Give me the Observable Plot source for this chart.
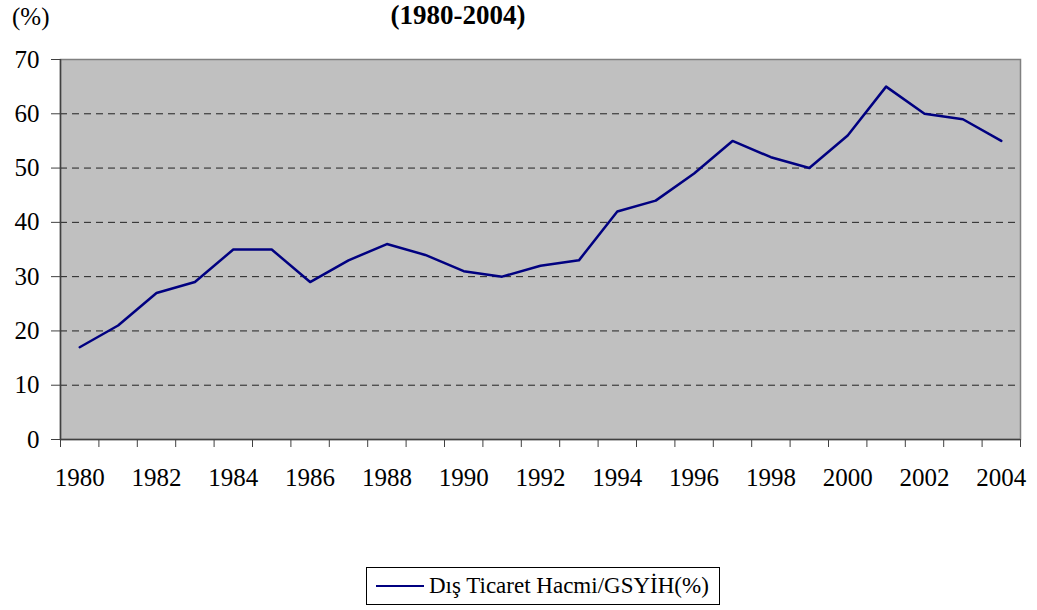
<!DOCTYPE html>
<html><head><meta charset="utf-8">
<script src="https://cdn.jsdelivr.net/npm/d3@7"></script>
<script src="https://cdn.jsdelivr.net/npm/@observablehq/plot@0.6"></script>
<style>
body{margin:0;background:#fff;font-family:"Liberation Serif","Times New Roman",serif;}
#wrap{position:relative;width:1037px;height:610px;overflow:hidden;background:#fff;}
#chart{position:absolute;left:0;top:0;}
#title{position:absolute;left:258px;top:2px;width:400px;text-align:center;font-weight:bold;font-size:27px;line-height:27px;}
#unit{position:absolute;left:12px;top:4px;font-size:25px;line-height:25px;}
#legend{position:absolute;left:366px;top:567px;width:352px;height:36px;border:1px solid #000;box-sizing:content-box;display:flex;align-items:center;font-size:23px;}
#legend .sw{width:48px;height:0;border-top:2.5px solid #000080;margin-left:9px;margin-right:5px;}
</style>
</head><body>
<div id="wrap">
  <div id="chart"></div>
  <div id="title">(1980-2004)</div>
  <div id="unit">(%)</div>
  <div id="legend"><span class="sw"></span><span id="legtext"></span></div>
</div>
<script>
const years = [1980,1981,1982,1983,1984,1985,1986,1987,1988,1989,1990,1991,1992,1993,1994,1995,1996,1997,1998,1999,2000,2001,2002,2003,2004];
const values = [17,21,27,29,35,35,29,33,36,34,31,30,32,33,42,44,49,55,52,50,56,65,60,59,55];
const seriesName = "Dış Ticaret Hacmi/GSYİH(%)";
const yTicks = [0,10,20,30,40,50,60,70];
const gridLines = [10,20,30,40,50,60];
const xLabels = [1980,1982,1984,1986,1988,1990,1992,1994,1996,1998,2000,2002,2004];

const data = years.map((y, i) => ({year: y, value: values[i]}));
const boundaries = years.map(y => y - 0.5).concat([years[years.length - 1] + 0.5]);
const x0 = years[0] - 0.5, x1 = years[years.length - 1] + 0.5;

document.getElementById("legtext").textContent = seriesName;

const chart = Plot.plot({
  width: 1037,
  height: 500,
  marginLeft: 60,
  marginRight: 17,
  marginTop: 59,
  marginBottom: 61,
  style: {fontFamily: '"Liberation Serif","Times New Roman",serif', fontSize: "25px", color: "#000", background: "transparent", overflow: "visible"},
  x: {domain: [x0, x1], label: null},
  y: {domain: [0, 70], label: null},
  marks: [
    Plot.frame({fill: "#c0c0c0", stroke: "#808080", strokeWidth: 1.5}),
    Plot.ruleY(gridLines, {stroke: "#222", strokeWidth: 1, strokeDasharray: "7,5"}),
    Plot.ruleX([x0], {stroke: "#404040", strokeWidth: 1.5}),
    Plot.ruleY([0], {stroke: "#404040", strokeWidth: 1.5}),
    Plot.axisY({ticks: yTicks, tickSize: 9, tickPadding: 12, tickFormat: d => String(d), fontSize: 25, stroke: "#404040", label: null}),
    Plot.axisX({ticks: boundaries, tickSize: 8, tickFormat: () => "", stroke: "#404040", label: null}),
    Plot.axisX({ticks: xLabels, tickSize: 0, tickPadding: 29, tickFormat: d => String(d), fontSize: 25, label: null}),
    Plot.line(data, {x: "year", y: "value", stroke: "#000080", strokeWidth: 2.5})
  ]
});
document.getElementById("chart").appendChild(chart);
</script>
</body></html>
